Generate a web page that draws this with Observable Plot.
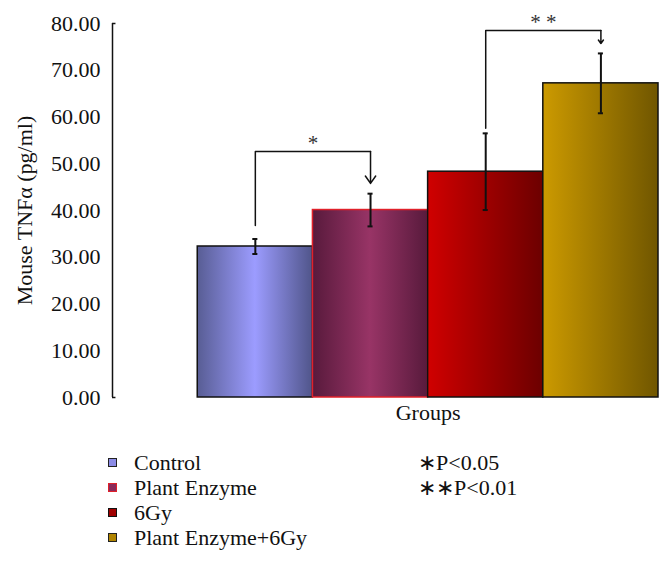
<!DOCTYPE html>
<html><head><meta charset="utf-8">
<script src="https://cdn.jsdelivr.net/npm/d3@7"></script>
<script src="https://cdn.jsdelivr.net/npm/@observablehq/plot@0.6"></script>
<style>
body{margin:0;background:#fff;font-family:"Liberation Serif","Times New Roman",serif;}
#wrap{width:672px;height:563px;position:relative;background:#fff;}
#wrap svg{display:block;}
#legend{position:relative;height:133px;}
.row{position:absolute;display:flex;align-items:center;height:25px;font-size:22px;line-height:25px;white-space:nowrap;color:#111;}
.sw{width:7px;height:7px;border:1px solid #222;margin-right:17px;}
</style></head><body><div id="wrap"></div>
<script>
// ---- data ----
const groups = ["Control", "Plant Enzyme", "6Gy", "Plant Enzyme+6Gy"];
const means = [32.3, 40.1, 48.3, 67.2];
const errors = [1.6, 3.5, 8.2, 6.4];
const yTicks = [0, 10, 20, 30, 40, 50, 60, 70, 80];
const bracketFrom = [0, 2];
const bracketTo = [1, 3];
const bracketStart = [36.8, 57.6];
const bracketTop = [52.6, 78.5];
const bracketEnd = [45.8, 75.7];
const bracketLabels = ["*", "* *"];
const pLabels = ["∗P<0.05", "∗∗P<0.01"];

// ---- style ----
const gradients = [
  [[0, "#585d94"], [0.5, "#9c9cff"], [1, "#50558a"]],
  [[0, "#581a3c"], [0.5, "#983466"], [1, "#581a3c"]],
  [[0, "#d00000"], [1, "#6c0000"]],
  [[0, "#cc9a00"], [1, "#705600"]]
];
const strokes = ["#111", "#e0202a", "#111", "#111"];
const swatch = ["#8c8ce6", "#8a2a5a", "#a00000", "#b08400"];
const swBorder = ["#222", "#e0202a", "#111", "#222"];
const font = '"Liberation Serif","Times New Roman",serif';
const xMin = -0.74;

const barData = groups.map((g, i) => ({g, i, x1: i, x2: i + 1, xc: i + 0.5, y: means[i], lo: means[i] - errors[i], hi: means[i] + errors[i]}));
const capHalf = 0.022;

const bracketLines = [];
const arrows = [];
const starTexts = [];
bracketFrom.forEach((f, k) => {
  const t = bracketTo[k];
  bracketLines.push({k, x: f + 0.5, y: bracketStart[k]});
  bracketLines.push({k, x: f + 0.5, y: bracketTop[k]});
  bracketLines.push({k, x: t + 0.5, y: bracketTop[k]});
  arrows.push({x: t + 0.5, y1: bracketTop[k], y2: bracketEnd[k]});
  starTexts.push({x: (f + t) / 2 + 0.5, y: bracketTop[k], label: bracketLabels[k]});
});

const defsMark = () => {
  const g = d3.create("svg:g");
  const defs = g.append("defs");
  gradients.forEach((stops, i) => {
    const lg = defs.append("linearGradient").attr("id", "grad" + i)
      .attr("x1", "0").attr("x2", "1").attr("y1", "0").attr("y2", "0");
    stops.forEach(([o, c]) => lg.append("stop").attr("offset", o).attr("stop-color", c));
  });
  return g.node();
};

const barMarks = barData.map((d, i) => Plot.rectY([d], {
  x1: "x1", x2: "x2", y1: 0, y2: "y", fill: `url(#grad${i})`, stroke: strokes[i], strokeWidth: 1.5, inset: 0
}));

const plot = Plot.plot({
  width: 672,
  height: 430,
  marginLeft: 112,
  marginRight: 14,
  marginTop: 23,
  marginBottom: 33,
  style: {fontFamily: font, fontSize: "22px", color: "#111", background: "white"},
  x: {domain: [xMin, 4], axis: null},
  y: {domain: [0, 80], axis: null},
  marks: [
    defsMark,
    ...barMarks,
    Plot.ruleX(barData, {x: "xc", y1: "lo", y2: "hi", stroke: "#111", strokeWidth: 2}),
    Plot.ruleY(barData, {y: "lo", x1: d => d.xc - capHalf, x2: d => d.xc + capHalf, stroke: "#111", strokeWidth: 2}),
    Plot.ruleY(barData, {y: "hi", x1: d => d.xc - capHalf, x2: d => d.xc + capHalf, stroke: "#111", strokeWidth: 2}),
    Plot.line(bracketLines, {x: "x", y: "y", z: "k", stroke: "#111", strokeWidth: 1.5, curve: "linear"}),
    Plot.arrow(arrows, {x: "x", y1: "y1", y2: "y2", stroke: "#111", strokeWidth: 1.5, headLength: 9, headAngle: 70}),
    Plot.text(starTexts, {x: "x", y: "y", text: "label", dy: -2, lineAnchor: "bottom", fontSize: 21, fill: "#333"}),
    Plot.axisY({ticks: yTicks, tickFormat: d3.format(".2f"), tickSize: 0, tickPadding: 12, fontSize: 22,
      label: "Mouse TNFα (pg/ml)", labelAnchor: "center", labelOffset: 96, labelArrow: "none"}),
    Plot.ruleX([xMin], {y1: 0, y2: 80, stroke: "#111", strokeWidth: 1.5}),
    Plot.ruleY([0, 80], {x1: xMin, x2: xMin + 0.03, stroke: "#111", strokeWidth: 1.5}),
    Plot.text(["Groups"], {x: groups.length / 2, frameAnchor: "bottom", dy: 15, lineAnchor: "middle", fontSize: 22})
  ]
});

const wrap = document.getElementById("wrap");
wrap.appendChild(plot);

const legend = document.createElement("div");
legend.id = "legend";
groups.forEach((g, i) => {
  const row = document.createElement("div");
  row.className = "row";
  row.style.left = "108px";
  row.style.top = (20 + 25 * i) + "px";
  const sw = document.createElement("span");
  sw.className = "sw";
  sw.style.background = swatch[i];
  sw.style.borderColor = swBorder[i];
  row.appendChild(sw);
  const t = document.createElement("span");
  t.textContent = g;
  row.appendChild(t);
  legend.appendChild(row);
});
pLabels.forEach((p, i) => {
  const row = document.createElement("div");
  row.className = "row";
  row.style.left = "418px";
  row.style.top = (20 + 25 * i) + "px";
  row.textContent = p;
  legend.appendChild(row);
});
wrap.appendChild(legend);
</script></body></html>
